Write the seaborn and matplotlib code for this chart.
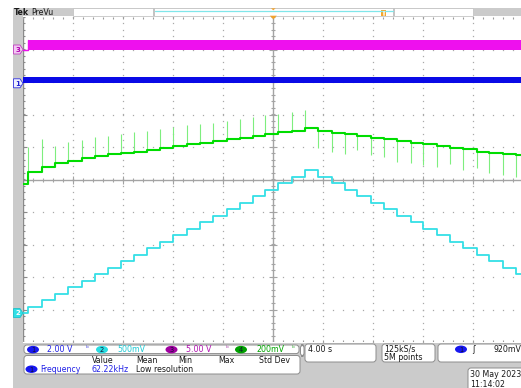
import numpy as np
import matplotlib
matplotlib.use("Agg")
import matplotlib.pyplot as plt
import seaborn as sns
from matplotlib.patches import Rectangle, FancyBboxPatch, Ellipse, Polygon

sns.set_theme(style="white")
plt.rcParams["font.family"] = ["DejaVu Sans"]

# ---------------- acquisition data ----------------
# instants (s, relative to trigger) at which the DAC ramp steps
step_times = [-19.58, -18.50, -17.44, -16.38, -15.30, -14.24, -13.22, -12.18,
              -11.12, -10.06, -9.02, -7.98, -6.90, -5.84, -4.78, -3.70, -2.64,
              -1.62, -0.64, 0.42, 1.50, 2.56, 3.62, 4.70, 5.76, 6.74, 7.82,
              8.88, 9.94, 11.02, 12.02, 13.10, 14.16, 15.22, 16.30, 17.30,
              18.38, 19.44]

# CH2: control voltage staircase (V)
ch2_levels = [0.0, 0.1, 0.2, 0.3, 0.4, 0.5, 0.6, 0.7, 0.8, 0.9, 1.0, 1.1, 1.2,
              1.3, 1.4, 1.5, 1.6, 1.7, 1.8, 1.9, 2.0, 2.1, 2.2, 2.1, 2.0, 1.9,
              1.8, 1.7, 1.6, 1.5, 1.4, 1.3, 1.2, 1.1, 1.0, 0.9, 0.8, 0.7, 0.6]

# CH4: output response (mV) and transient peak at every step (mV)
ch4_levels_mv = [-29, 49, 78, 102, 114, 131, 143, 156, 164, 172, 182, 194, 207,
                 217, 225, 238, 250, 256, 268, 283, 291, 299, 316, 297, 289, 279,
                 268, 256, 248, 236, 225, 217, 205, 194, 185, 172, 164, 156, 150]
ch4_spikes_mv = [197, 252, 207, 231, 242, 260, 268, 281, 291, 297, 310, 324, 334,
                 340, 346, 361, 375, 382, 400, 406, 416, 426, 191, 170, 160, 180,
                 150, 139, 108, 102, 88, 78, 94, 57, 68, 41, 26, 16]

# CH3 / CH1: switching waveforms, shown as their envelope (V)
ch3_start = -19.58
ch3_envelope = [0.0, 1.45]
ch1_envelope = [0.0, 0.37]

# vertical settings: volts per division and position (div)
volts_per_div = {"1": 2.0, "2": 0.5, "3": 5.0, "4": 0.2}
position_div = {"1": 2.96, "2": -4.11, "3": 4.0, "4": 0.0}
T_LEFT, T_RIGHT = -20.0, 20.0

channel_labels = ["2.00 V", "500mV", "5.00 V", "200mV"]
meas_headers = ["Value", "Mean", "Min", "Max", "Std Dev"]

# ---------------- colours ----------------
C_GRAY = "#cbcbcb"
C_CH1 = "#0a0ae6"
C_CH2 = "#34dfe6"
C_CH3 = "#ee10ee"
C_CH4 = "#00dd00"
C_CH4_SPIKE = "#7eee7e"
C_DOT = "#a9a9a9"


def to_div(ch, v):
    return np.asarray(v, dtype=float) / volts_per_div[ch] + position_div[ch]


ch4_levels = [v / 1000.0 for v in ch4_levels_mv]
ch4_spikes = [v / 1000.0 for v in ch4_spikes_mv]

W, H = 521, 388
fig = plt.figure(figsize=(W / 100, H / 100), dpi=100)
fig.patch.set_facecolor("white")

# background chrome (pixel coordinates)
bg = fig.add_axes([0, 0, 1, 1], zorder=0)
bg.set_xlim(0, W)
bg.set_ylim(H, 0)
bg.axis("off")
bg.add_patch(Rectangle((13, 8), W - 13, H - 8, color=C_GRAY, lw=0))
bg.add_patch(Rectangle((23, 15.5), W - 23, 327.5, color="white", lw=0))

# ---------------- graticule ----------------
GX0, GY_TOP, GY_BOT = 23, 17, 342
ax = fig.add_axes([GX0 / W, (H - GY_BOT) / H, 500 / W, (GY_BOT - GY_TOP) / H], zorder=1)
ax.set_xlim(T_LEFT, T_RIGHT)
ax.set_ylim(-5, 5)
ax.axis("off")

px_x = (T_RIGHT - T_LEFT) / 500.0
px_y = 10.0 / 325.0

# dotted division lines
major_t = np.arange(-16, 17, 4)
major_d = np.arange(-4, 5, 1)
minor_t = np.arange(-20, 20.01, 0.8)
minor_d = np.arange(-5, 5.01, 0.2)
for t in major_t:
    if t == 0:
        continue
    ax.plot(np.full_like(minor_d, t), minor_d, ls="none", marker="s", ms=0.9,
            mew=0, color=C_DOT, zorder=1)
for d in major_d:
    if d == 0:
        continue
    ax.plot(minor_t, np.full_like(minor_t, d), ls="none", marker="s", ms=0.9,
            mew=0, color=C_DOT, zorder=1)

# centre cross with ticks
ax.axhline(0, color="#a4a4a4", lw=1.0, zorder=1)
ax.axvline(0, color="#a4a4a4", lw=1.0, zorder=1)
ax.vlines(minor_t, -2 * px_y, 2 * px_y, color="#a4a4a4", lw=0.8, zorder=1)
ax.vlines(major_t, -4 * px_y, 4 * px_y, color="#a4a4a4", lw=0.8, zorder=1)
ax.hlines(minor_d, -2 * px_x, 2 * px_x, color="#a4a4a4", lw=0.8, zorder=1)
ax.hlines(major_d, -4 * px_x, 4 * px_x, color="#a4a4a4", lw=0.8, zorder=1)

# frame ticks
ax.axvline(T_LEFT + 0.5 * px_x, color="#8a8a8a", lw=1.0, zorder=1)
ax.hlines(minor_d, T_LEFT, T_LEFT + 2.5 * px_x, color="#8a8a8a", lw=0.8, zorder=1)
ax.hlines(major_d, T_LEFT, T_LEFT + 4 * px_x, color="#8a8a8a", lw=0.8, zorder=1)
ax.vlines(minor_t, 5 - 2 * px_y, 5, color="#9a9a9a", lw=0.8, zorder=1)
ax.vlines(minor_t, -5, -5 + 2 * px_y, color="#9a9a9a", lw=0.8, zorder=1)

# ---------------- traces ----------------
t_steps = [T_LEFT] + step_times + [T_RIGHT]

# CH3 switching node envelope
ax.fill_between([ch3_start, T_RIGHT], to_div("3", ch3_envelope[0]), to_div("3", ch3_envelope[1]),
                color=C_CH3, lw=0, zorder=3)
sns.lineplot(x=[T_LEFT, ch3_start, ch3_start], y=to_div("3", [0.0, 0.0, ch3_envelope[1]]),
             ax=ax, color=C_CH3, lw=1.0, sort=False, estimator=None, zorder=3)

# CH1 PWM envelope
ax.fill_between([T_LEFT, T_RIGHT], to_div("1", ch1_envelope[0]), to_div("1", ch1_envelope[1]),
                color=C_CH1, lw=0, zorder=3)

# CH4 response with transients
ch4_y = to_div("4", ch4_levels + [ch4_levels[-1]])
ax.vlines(step_times, to_div("4", ch4_levels[:-1]), to_div("4", ch4_spikes),
          color=C_CH4_SPIKE, lw=0.8, zorder=3)
sns.lineplot(x=t_steps, y=ch4_y, ax=ax, drawstyle="steps-post", color=C_CH4,
             lw=1.5, sort=False, estimator=None, zorder=4)

# CH2 control staircase
ch2_y = to_div("2", ch2_levels + [ch2_levels[-1]])
sns.lineplot(x=t_steps, y=ch2_y, ax=ax, drawstyle="steps-post", color=C_CH2,
             lw=1.3, sort=False, estimator=None, zorder=4)
if ax.get_legend() is not None:
    ax.get_legend().remove()

# ---------------- foreground chrome ----------------
fg = fig.add_axes([0, 0, 1, 1], zorder=5)
fg.set_xlim(0, W)
fg.set_ylim(H, 0)
fg.axis("off")
fg.patch.set_alpha(0)

FS = 5.7
TXT = "#1a1a1a"

# top record bar
fg.add_patch(Rectangle((73, 8.3), 400, 7.4, facecolor="white", edgecolor="#c4c4c4", lw=0.6))
fg.plot([155, 393], [11.4, 11.4], color="#80e6ea", lw=0.9)
fg.add_patch(Rectangle((153, 8.3), 2, 7.4, color="#c4c4c4", lw=0))
fg.add_patch(Rectangle((393, 8.3), 2, 7.4, color="#c4c4c4", lw=0))
fg.text(14, 12.2, "Tek", fontsize=FS, fontweight="bold", color=TXT, va="center", ha="left")
fg.text(31, 12.2, "PreVu", fontsize=FS, color=TXT, va="center", ha="left")
fg.add_patch(Polygon([(271, 8.3), (275.6, 8.3), (273.3, 10.3)], closed=True, color="#f2a22c", lw=0))
fg.add_patch(Polygon([(269.8, 15.7), (276.8, 15.7), (273.3, 19.3)], closed=True, color="#f2a22c", lw=0))
fg.add_patch(Rectangle((381, 10), 5, 5.5, color="#f5a62a", lw=0))
fg.plot([382.8, 382.8], [11, 14.5], color="white", lw=0.5)
fg.plot([384.4, 384.4], [11, 14.5], color="white", lw=0.5)


def tag(y, face, edge, num, txtcol):
    fg.add_patch(Polygon([(13.5, y - 4.5), (20, y - 4.5), (23, y), (20, y + 4.5), (13.5, y + 4.5)],
                         closed=True, facecolor=face, edgecolor=edge, lw=0.6))
    fg.text(17.5, y + 0.3, num, fontsize=5, color=txtcol, ha="center", va="center", fontweight="bold")


y3 = GY_TOP + (5 - position_div["3"]) * 32.5
y1 = GY_TOP + (5 - position_div["1"]) * 32.5
y2 = GY_TOP + (5 - position_div["2"]) * 32.5
tag(y3, "#f3c8f3", "#c040c0", "3", "#b000b0")
tag(y1, "#eef0ff", "#3030e0", "1", "#2020d0")
tag(y2, "#30e0e6", "#20c0c8", "2", "white")


def rbox(x, y, w, h):
    fg.add_patch(FancyBboxPatch((x, y), w, h, boxstyle="round,pad=0,rounding_size=3",
                                facecolor="white", edgecolor="#8c8c8c", lw=0.7))


def badge(x, y, color, num):
    fg.add_patch(Ellipse((x, y), 12, 7.5, color=color, lw=0))
    fg.text(x, y + 0.3, num, fontsize=4.8, color="#101030", ha="center", va="center")


# channel bar
rbox(24, 345, 275, 8.6)
rbox(300.5, 345, 3.5, 11)
yc = 349.6
badge(33, yc, "#1717f0", "1")
fg.text(47, yc, channel_labels[0], fontsize=FS, color="#2323e6", va="center")
fg.text(86, yc - 0.5, "ᵇ", fontsize=5, color="#5050e0", va="center")
badge(102, yc, "#28dde2", "2")
fg.text(117, yc, channel_labels[1], fontsize=FS, color="#1fcad4", va="center")
badge(171.5, yc, "#a000a0", "3")
fg.text(186, yc, channel_labels[2], fontsize=FS, color="#b012b0", va="center")
fg.text(226, yc - 0.5, "ᵇ", fontsize=5, color="#b050b0", va="center")
badge(241, yc, "#00a000", "4")
fg.text(256, yc, channel_labels[3], fontsize=FS, color="#00a400", va="center")
fg.text(292, yc - 0.5, "ᵇ", fontsize=5, color="#40b040", va="center")

# measurement box
rbox(24, 355.5, 276, 18.5)
for xh, lab in zip([92, 136, 178, 218, 259], meas_headers):
    fg.text(xh, 360.3, lab, fontsize=FS, color=TXT, va="center")
badge(31.5, 369.2, "#1717f0", "1")
fg.text(40, 369.2, "Frequency", fontsize=FS, color="#2323e6", va="center")
fg.text(92, 369.2, "62.22kHz", fontsize=FS, color="#2323e6", va="center")
fg.text(136, 369.2, "Low resolution", fontsize=FS, color=TXT, va="center")

# horizontal / acquisition / trigger boxes
rbox(305, 344, 71, 18)
fg.text(307.5, 349.3, "4.00 s", fontsize=FS, color=TXT, va="center")
rbox(382, 344, 53, 18)
fg.text(384.5, 349.3, "125kS/s", fontsize=FS, color=TXT, va="center")
fg.text(384.5, 357.6, "5M points", fontsize=FS, color=TXT, va="center")
rbox(438, 344, 95, 18)
badge(461, 349.3, "#1717f0", "1")
fg.text(472.5, 349.3, "ʃ", fontsize=FS, color=TXT, va="center")
fg.text(493, 349.3, "920mV", fontsize=FS, color=TXT, va="center")

# date box
rbox(468, 368, 65, 30)
fg.text(470.5, 374.6, "30 May 2023", fontsize=FS, color=TXT, va="center")
fg.text(470.5, 384.2, "11:14:02", fontsize=FS, color=TXT, va="center")

fig.savefig("out.png", dpi=100, facecolor="white")
